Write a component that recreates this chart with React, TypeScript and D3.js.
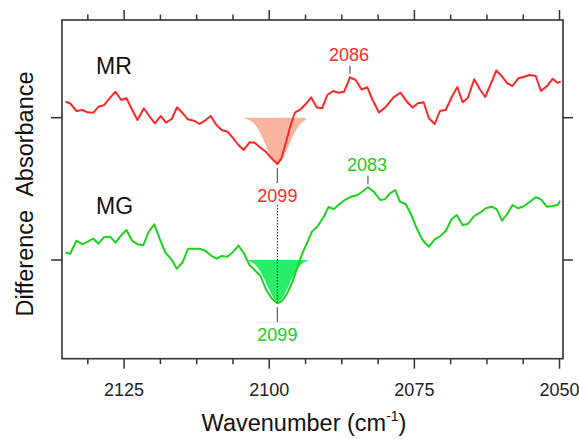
import React from "react";
import * as d3 from "d3";

// ---- data ----
const mrWavenumber = [
  2135.1, 2134.3, 2133.2, 2132.2, 2131.3, 2130.3, 2129.4, 2128.5, 2127.5, 2126.5,
  2125.5, 2124.6, 2123.6, 2122.7, 2121.6, 2120.6, 2119.7, 2118.7, 2117.8, 2116.8,
  2115.9, 2114.9, 2114.0, 2113.0, 2112.0, 2111.1, 2110.1, 2109.1, 2108.2, 2107.2,
  2106.3, 2105.3, 2104.4, 2103.4, 2102.5, 2101.5, 2100.5, 2099.6, 2098.6, 2097.9,
  2097.2, 2096.4, 2095.6, 2094.6, 2093.6, 2092.8, 2091.8, 2090.9, 2090.0, 2089.0,
  2088.1, 2087.1, 2086.1, 2085.1, 2084.1, 2083.1, 2082.2, 2081.1, 2080.0, 2078.6,
  2077.4, 2076.3, 2075.3, 2074.4, 2073.4, 2072.5, 2071.5, 2070.6, 2069.6, 2068.6,
  2067.6, 2066.7, 2065.8, 2064.7, 2063.7, 2062.8, 2061.8, 2060.9, 2059.9, 2059.0,
  2058.1, 2057.1, 2056.1, 2055.1, 2054.1, 2053.2, 2052.2, 2051.2, 2050.4, 2049.8,
];
const mrValues = [
  0.16, 0.144, 0.067, 0.077, 0.054, 0.05, 0.11, 0.124, 0.194, 0.26,
  0.177, 0.194, 0.077, -0.023, 0.094, 0.01, -0.056, 0.017, -0.05, -0.013,
  0.104, 0.044, -0.016, -0.03, -0.063, -0.03, 0.017, -0.073, -0.123, -0.14,
  -0.2, -0.273, -0.323, -0.246, -0.25, -0.3, -0.346, -0.406, -0.463, -0.406,
  -0.263, -0.09, 0.05, 0.084, 0.144, 0.204, 0.102, 0.094, 0.227, 0.267,
  0.25, 0.26, 0.404, 0.377, 0.282, 0.304, 0.177, 0.052, 0.104, 0.204,
  0.25, 0.16, 0.102, 0.144, 0.155, -0.006, -0.063, 0.067, 0.077, 0.204,
  0.307, 0.155, 0.197, 0.385, 0.282, 0.207, 0.344, 0.472, 0.412, 0.344,
  0.317, 0.394, 0.41, 0.427, 0.417, 0.267, 0.314, 0.389, 0.35, 0.359,
];
const mgWavenumber = [
  2135.1, 2134.3, 2133.2, 2132.2, 2131.3, 2130.3, 2129.4, 2128.5, 2127.4, 2126.5,
  2125.5, 2124.6, 2123.6, 2122.7, 2121.7, 2120.7, 2119.8, 2118.9, 2117.9, 2116.9,
  2115.9, 2114.9, 2114.0, 2113.0, 2112.0, 2111.0, 2110.1, 2109.1, 2108.2, 2107.2,
  2106.2, 2105.3, 2104.4, 2103.4, 2102.4, 2101.5, 2100.6, 2099.6, 2098.6, 2097.8,
  2096.9, 2096.0, 2095.2, 2094.3, 2093.4, 2092.6, 2091.7, 2090.6, 2089.8, 2088.9,
  2087.9, 2086.8, 2085.9, 2084.8, 2084.0, 2083.0, 2082.0, 2080.9, 2080.1, 2079.2,
  2078.3, 2077.5, 2076.5, 2075.6, 2074.6, 2073.6, 2072.5, 2071.5, 2070.5, 2069.6,
  2068.6, 2067.7, 2066.7, 2065.8, 2064.7, 2063.7, 2062.7, 2061.7, 2060.8, 2059.9,
  2059.0, 2058.1, 2057.1, 2056.1, 2055.1, 2054.1, 2053.2, 2052.2, 2051.2, 2050.3, 2049.9,
];
const mgValues = [
  0.075, 0.063, 0.193, 0.157, 0.183, 0.213, 0.163, 0.227, 0.233, 0.173,
  0.247, 0.3, 0.192, 0.158, 0.148, 0.288, 0.357, 0.217, 0.075, 0.01,
  -0.087, -0.02, 0.113, 0.113, 0.112, 0.092, 0.047, 0.013, 0.04, 0.033,
  0.083, 0.143, 0.07, -0.05, -0.108, -0.16, -0.29, -0.383, -0.433, -0.41,
  -0.333, -0.217, -0.083, 0.067, 0.183, 0.288, 0.335, 0.433, 0.53, 0.508,
  0.56, 0.607, 0.633, 0.65, 0.683, 0.727, 0.683, 0.6, 0.607, 0.667,
  0.7, 0.583, 0.56, 0.46, 0.317, 0.2, 0.133, 0.207, 0.24, 0.29,
  0.407, 0.45, 0.35, 0.36, 0.44, 0.473, 0.517, 0.533, 0.507, 0.393,
  0.46, 0.55, 0.517, 0.54, 0.583, 0.627, 0.607, 0.533, 0.54, 0.55, 0.593,
];

const seriesNames = ["MR", "MG"];
const seriesOffsets = [1.423, 0];

// fitted Gaussian bands (center, depth, sigma, extent)
const bandCenters = [2098.6, 2098.5];
const bandDepths = [0.455, 0.42];
const bandSigmas = [2.0, 2.0];
const bandStarts = [2104.4, 2103.6];
const bandEnds = [2093.7, 2093.3];

// peak annotations
const peakLabels = ["2086", "2099", "2083", "2099"];
const peakSeries = [0, 0, 1, 1];
const peakWavenumbers = [2086.1, 2098.6, 2083.0, 2098.6];
const peakValues = [0.404, -0.463, 0.727, -0.433];
const peakSides = ["above", "below", "above", "below"];

const xDomain = [2135.7, 2049.4];
const yDomain = [-0.987, 2.4];
const xMajorTicks = [2125, 2100, 2075, 2050];
const xMinorTicks = [2131.25, 2118.75, 2112.5, 2106.25, 2093.75, 2087.5, 2081.25, 2068.75, 2062.5, 2056.25];

const W = 579;
const H = 439;
const LEFT = 62;
const RIGHT = 563;
const TOP = 20;
const BOTTOM = 358.7;

const LINE_COLORS = ["#ff2626", "#1fd11f"];
const FILL_COLORS = ["#f9b49d", "#27ee66"];
const TEXT_COLORS = ["#ff2a2a", "#1ccc1c"];
const FONT = "'Liberation Sans', Arial, Helvetica, sans-serif";

export default function App() {
  const x = d3.scaleLinear().domain(xDomain).range([LEFT, RIGHT]);
  const y = d3.scaleLinear().domain(yDomain).range([BOTTOM, TOP]);

  const series = [
    { wn: mrWavenumber, v: mrValues },
    { wn: mgWavenumber, v: mgValues },
  ];

  const lineGen = (i: number) =>
    d3
      .line<number>()
      .x((_, k) => x(series[i].wn[k]))
      .y((d) => y(d + seriesOffsets[i]))(series[i].v) || "";

  const bands = bandCenters.map((c, i) => {
    const pts = d3.range(bandStarts[i], bandEnds[i] - 0.01, -0.1);
    const g = (w: number) =>
      -bandDepths[i] * Math.exp(-((w - c) * (w - c)) / (2 * bandSigmas[i] * bandSigmas[i]));
    const area = d3
      .area<number>()
      .x((w) => x(w))
      .y0(() => y(seriesOffsets[i]))
      .y1((w) => y(g(w) + seriesOffsets[i]))
      .curve(d3.curveBasis)(pts) || "";
    const edge = d3
      .line<number>()
      .x((w) => x(w))
      .y((w) => y(g(w) + seriesOffsets[i]))(pts) || "";
    return { area, edge };
  });

  const yTicks = seriesOffsets;

  // dotted connector between the two 2099 minima
  const redMinY = y(peakValues[1] + seriesOffsets[0]);
  const greenMinY = y(peakValues[3] + seriesOffsets[1]);

  return (
    <svg
      width={W}
      height={H}
      style={{ position: "absolute", left: 0, top: 0, display: "block", background: "#fff" }}
      fontFamily={FONT}
    >
      <rect x={0} y={0} width={W} height={H} fill="#fff" />

      {/* Gaussian bands */}
      {bands.map((b, i) => (
        <path key={"band" + i} d={b.area} fill={FILL_COLORS[i]} stroke="none" />
      ))}
      <path d={bands[1].edge} fill="none" stroke="#ffffff" strokeWidth={1.6} />

      {/* dotted line */}
      <line
        x1={x(peakWavenumbers[1])}
        x2={x(peakWavenumbers[1])}
        y1={redMinY + 41}
        y2={greenMinY - 1}
        stroke="#222"
        strokeWidth={1}
        strokeDasharray="1.5,1.5"
      />

      {/* data lines */}
      {series.map((_, i) => (
        <path
          key={"line" + i}
          d={lineGen(i)}
          fill="none"
          stroke={LINE_COLORS[i]}
          strokeWidth={2}
          strokeLinejoin="round"
        />
      ))}

      {/* peak annotations */}
      {peakLabels.map((lab, k) => {
        const s = peakSeries[k];
        const px = x(peakWavenumbers[k]);
        const py = y(peakValues[k] + seriesOffsets[s]);
        if (peakSides[k] === "above") {
          return (
            <g key={"pk" + k}>
              <line x1={px} x2={px} y1={py - 3.5} y2={py - 11.5} stroke="#666" strokeWidth={1.3} />
              <text x={px - 1} y={py - 16.5} textAnchor="middle" fontSize={18} fill={TEXT_COLORS[s]}>
                {lab}
              </text>
            </g>
          );
        }
        return (
          <g key={"pk" + k}>
            <line x1={px} x2={px} y1={py + 4} y2={py + 19} stroke="#666" strokeWidth={1.3} />
            {s === 1 && (
              <line x1={px - 22} x2={px + 23} y1={py + 19} y2={py + 19} stroke="#e4e4e4" strokeWidth={1} />
            )}
            <text x={px} y={py + 38} textAnchor="middle" fontSize={18} fill={TEXT_COLORS[s]}>
              {lab}
            </text>
          </g>
        );
      })}

      {/* series names */}
      {seriesNames.map((n, i) => (
        <text
          key={"name" + i}
          x={LEFT + 34}
          y={y(seriesOffsets[i]) - (i === 0 ? 44 : 46)}
          fontSize={23}
          fill="#111"
        >
          {n}
        </text>
      ))}

      {/* frame */}
      <rect
        x={LEFT}
        y={TOP}
        width={RIGHT - LEFT}
        height={BOTTOM - TOP}
        fill="none"
        stroke="#333"
        strokeWidth={1.6}
      />

      {/* x ticks top & bottom */}
      {xMajorTicks.map((t) => (
        <g key={"M" + t}>
          <line x1={x(t)} x2={x(t)} y1={BOTTOM} y2={BOTTOM + 10} stroke="#333" strokeWidth={1.5} />
          <line x1={x(t)} x2={x(t)} y1={TOP} y2={TOP - 10} stroke="#333" strokeWidth={1.5} />
          <text x={x(t)} y={396} textAnchor="middle" fontSize={18} fill="#222">
            {t}
          </text>
        </g>
      ))}
      {xMinorTicks.map((t) => (
        <g key={"m" + t}>
          <line x1={x(t)} x2={x(t)} y1={BOTTOM} y2={BOTTOM + 5.5} stroke="#333" strokeWidth={1.5} />
          <line x1={x(t)} x2={x(t)} y1={TOP} y2={TOP - 5.5} stroke="#333" strokeWidth={1.5} />
        </g>
      ))}

      {/* y ticks left & right */}
      {yTicks.map((t, i) => (
        <g key={"y" + i}>
          <line x1={LEFT} x2={LEFT - 11} y1={y(t)} y2={y(t)} stroke="#333" strokeWidth={1.5} />
          <line x1={RIGHT} x2={RIGHT + 10} y1={y(t)} y2={y(t)} stroke="#333" strokeWidth={1.5} />
        </g>
      ))}

      {/* axis titles */}
      <text x={304} y={431} textAnchor="middle" fontSize={23.5} fill="#111">
        Wavenumber (cm
        <tspan fontSize={14} dy={-10}>
          -1
        </tspan>
        <tspan dy={10}>)</tspan>
      </text>
      <text
        transform="translate(33,194) rotate(-90)"
        textAnchor="middle"
        fontSize={23.5}
        fill="#111"
      >
        {"Difference\u00a0\u00a0Absorbance"}
      </text>
    </svg>
  );
}
